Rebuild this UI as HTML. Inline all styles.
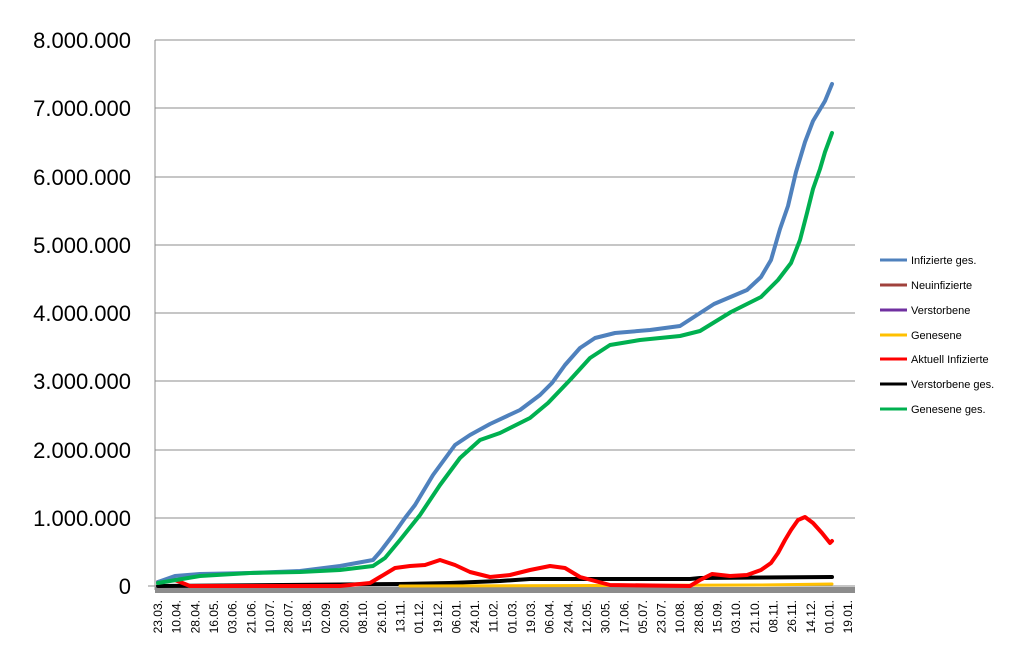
<!DOCTYPE html>
<html><head><meta charset="utf-8"><style>body{margin:0;background:#fff}svg{display:block}</style></head><body>
<svg width="1016" height="662" viewBox="0 0 1016 662" xmlns="http://www.w3.org/2000/svg" font-family="Liberation Sans, sans-serif">
<g stroke="#8c8c8c" stroke-width="1">
<line x1="155" y1="40" x2="855" y2="40"/><line x1="155" y1="108" x2="855" y2="108"/><line x1="155" y1="177" x2="855" y2="177"/><line x1="155" y1="245" x2="855" y2="245"/><line x1="155" y1="313" x2="855" y2="313"/><line x1="155" y1="381" x2="855" y2="381"/><line x1="155" y1="450" x2="855" y2="450"/><line x1="155" y1="518" x2="855" y2="518"/>
<line x1="155" y1="40" x2="155" y2="590"/><line x1="148" y1="586" x2="855" y2="586"/>
</g>
<rect x="155" y="587" width="700" height="6" fill="#8c8c8c"/>
<g font-size="22" text-anchor="end" fill="#000">
<text x="131" y="48">8.000.000</text><text x="131" y="116">7.000.000</text><text x="131" y="185">6.000.000</text><text x="131" y="253">5.000.000</text><text x="131" y="321">4.000.000</text><text x="131" y="389">3.000.000</text><text x="131" y="458">2.000.000</text><text x="131" y="526">1.000.000</text><text x="131" y="594">0</text>
</g>
<g fill="none" stroke-width="4" stroke-linejoin="round" stroke-linecap="round">
<polyline stroke="#000" points="158,586 400,584 450,583 500,581 530,579 690,579 700,578 832,577"/>
<polyline stroke="#ffc000" stroke-width="3" points="400,586 760,585 832,584"/>
<polyline stroke="#ff0000" points="158,582 175,580 190,586 340,586 370,583 380,577 395,568 410,566 425,565 440,560 455,565 470,572 490,577 510,575 530,570 550,566 565,568 580,577 610,585 690,586 700,580 712,574 730,576 747,575 761,570 771,563 778,553 785,540 791,530 798,520 805,517 813,523 822,533 830,543 832,541"/>
<polyline stroke="#4f81bd" points="158,582 175,576 200,574 250,573 300,571 340,566 373,560 380,552 393,535 405,518 415,505 433,475 455,445 470,435 490,424 520,410 540,395 552,383 565,365 580,348 595,338 615,333 650,330 680,326 714,304 747,290 761,277 771,260 780,229 788,206 796,172 805,142 813,121 825,101 832,84"/>
<polyline stroke="#00b050" points="158,583 200,576 250,573 300,572 340,570 373,566 385,558 400,540 420,515 440,485 460,458 480,440 500,433 530,418 548,403 570,380 590,358 610,345 640,340 680,336 700,331 731,312 761,297 778,280 791,263 800,240 807,213 813,189 820,169 825,152 832,133"/>
</g>
<g stroke-width="3">
<line x1="880" y1="260" x2="907" y2="260" stroke="#4f81bd"/><line x1="880" y1="285" x2="907" y2="285" stroke="#a0413c"/><line x1="880" y1="310" x2="907" y2="310" stroke="#7030a0"/><line x1="880" y1="335" x2="907" y2="335" stroke="#ffc000"/><line x1="880" y1="359" x2="907" y2="359" stroke="#ff0000"/><line x1="880" y1="384" x2="907" y2="384" stroke="#000"/><line x1="880" y1="409" x2="907" y2="409" stroke="#00b050"/>
</g>
<g font-size="11" fill="#000">
<text x="911" y="264">Infizierte ges.</text><text x="911" y="289">Neuinfizierte</text><text x="911" y="314">Verstorbene</text><text x="911" y="339">Genesene</text><text x="911" y="363">Aktuell Infizierte</text><text x="911" y="388">Verstorbene ges.</text><text x="911" y="413">Genesene ges.</text>
</g>
<g font-size="12" text-anchor="end" fill="#000">
<text transform="translate(162.0,600) rotate(-90)">23.03.</text>
<text transform="translate(180.6,600) rotate(-90)">10.04.</text>
<text transform="translate(199.3,600) rotate(-90)">28.04.</text>
<text transform="translate(218.0,600) rotate(-90)">16.05.</text>
<text transform="translate(236.6,600) rotate(-90)">03.06.</text>
<text transform="translate(255.3,600) rotate(-90)">21.06.</text>
<text transform="translate(273.9,600) rotate(-90)">10.07.</text>
<text transform="translate(292.6,600) rotate(-90)">28.07.</text>
<text transform="translate(311.2,600) rotate(-90)">15.08.</text>
<text transform="translate(329.9,600) rotate(-90)">02.09.</text>
<text transform="translate(348.5,600) rotate(-90)">20.09.</text>
<text transform="translate(367.2,600) rotate(-90)">08.10.</text>
<text transform="translate(385.8,600) rotate(-90)">26.10.</text>
<text transform="translate(404.5,600) rotate(-90)">13.11.</text>
<text transform="translate(423.1,600) rotate(-90)">01.12.</text>
<text transform="translate(441.8,600) rotate(-90)">19.12.</text>
<text transform="translate(460.4,600) rotate(-90)">06.01.</text>
<text transform="translate(479.1,600) rotate(-90)">24.01.</text>
<text transform="translate(497.7,600) rotate(-90)">11.02.</text>
<text transform="translate(516.4,600) rotate(-90)">01.03.</text>
<text transform="translate(535.0,600) rotate(-90)">19.03.</text>
<text transform="translate(553.7,600) rotate(-90)">06.04.</text>
<text transform="translate(572.3,600) rotate(-90)">24.04.</text>
<text transform="translate(591.0,600) rotate(-90)">12.05.</text>
<text transform="translate(609.6,600) rotate(-90)">30.05.</text>
<text transform="translate(628.3,600) rotate(-90)">17.06.</text>
<text transform="translate(646.9,600) rotate(-90)">05.07.</text>
<text transform="translate(665.6,600) rotate(-90)">23.07.</text>
<text transform="translate(684.2,600) rotate(-90)">10.08.</text>
<text transform="translate(702.9,600) rotate(-90)">28.08.</text>
<text transform="translate(721.5,600) rotate(-90)">15.09.</text>
<text transform="translate(740.2,600) rotate(-90)">03.10.</text>
<text transform="translate(758.8,600) rotate(-90)">21.10.</text>
<text transform="translate(777.5,600) rotate(-90)">08.11.</text>
<text transform="translate(796.1,600) rotate(-90)">26.11.</text>
<text transform="translate(814.8,600) rotate(-90)">14.12.</text>
<text transform="translate(833.4,600) rotate(-90)">01.01.</text>
<text transform="translate(852.1,600) rotate(-90)">19.01.</text>
</g>
</svg>
</body></html>
